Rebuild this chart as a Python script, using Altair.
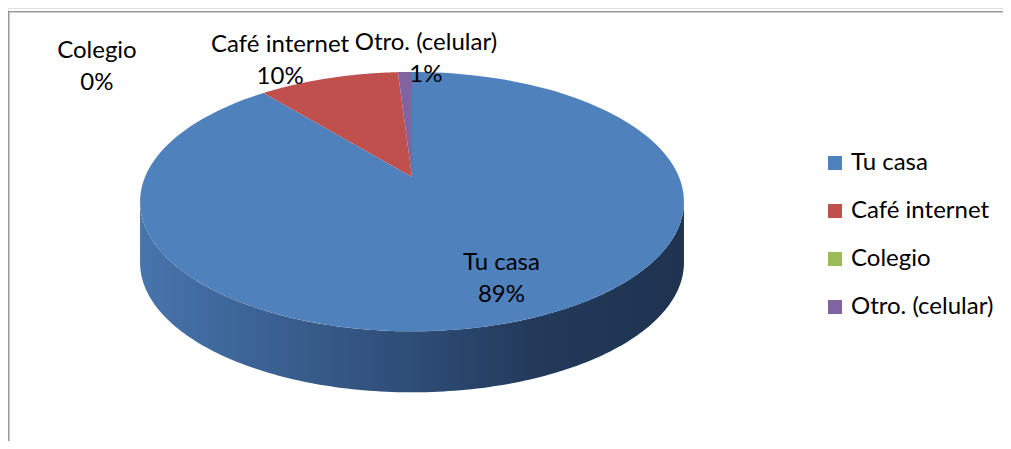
import math
import altair as alt
import pandas as pd

# ---- data ----
categorias = ["Tu casa", "Café internet", "Colegio", "Otro. (celular)"]
porcentajes = [89, 10, 0, 1]
colores = ["#4F81BD", "#C0504D", "#9BBB59", "#8064A2"]

# ---- layout (pixels / projection constants) ----
W, H = 995, 433
APEX_X, APEX_Y = 404, 169      # pie centre in plot pixels
SX, SY = 267, 125              # pixels per unit on x / y
K = 0.19                       # perspective factor
DEPTH = 61                     # pie thickness in pixels
N = 160                        # points per arc
FONT = "Lato"

xdom = [-APEX_X / SX, (W - APEX_X) / SX]
ydom = [(APEX_Y - H) / SY, APEX_Y / SY]
xenc = alt.X("px:Q", scale=alt.Scale(domain=xdom, nice=False, zero=False), axis=None)
yenc = alt.Y("py:Q", scale=alt.Scale(domain=ydom, nice=False, zero=False), axis=None)

src = pd.DataFrame({"categoria": categorias, "porcentaje": porcentajes})

base = (
    alt.Chart(src)
    .transform_window(cum="sum(porcentaje)", frame=[None, 0])
    .transform_joinaggregate(total="sum(porcentaje)")
    .transform_calculate(
        ini="(datum.cum - datum.porcentaje) / datum.total",
        fin="datum.cum / datum.total",
    )
)

# front wall (visible side of the pie)
FA = math.acos(-K) / (2 * math.pi)
wall = (
    base.transform_calculate(a0=f"max(datum.ini, {FA})", a1=f"min(datum.fin, {1 - FA})")
    .transform_filter("datum.a1 > datum.a0")
    .transform_calculate(t=f"sequence(0, {2 * N})")
    .transform_flatten(["t"])
    .transform_calculate(
        s=f"datum.t < {N} ? datum.t / {N - 1} : ({2 * N - 1} - datum.t) / {N - 1}",
    )
    .transform_calculate(ang="2 * PI * (datum.a0 + (datum.a1 - datum.a0) * datum.s)")
    .transform_calculate(den=f"1 + {K} * cos(datum.ang)")
    .transform_calculate(
        px="sin(datum.ang) / datum.den",
        py=f"cos(datum.ang) / datum.den - (datum.t >= {N} ? {DEPTH / SY} : 0)",
    )
    .mark_line(
        filled=True,
        interpolate="linear",
        fill=alt.LinearGradient(
            gradient="linear",
            x1=0, x2=1, y1=0, y2=0,
            stops=[
                alt.GradientStop(color="#4775ad", offset=0),
                alt.GradientStop(color="#3f689c", offset=0.15),
                alt.GradientStop(color="#385c8b", offset=0.3),
                alt.GradientStop(color="#2e4d77", offset=0.5),
                alt.GradientStop(color="#233a5b", offset=0.72),
                alt.GradientStop(color="#1f3350", offset=1),
            ],
        ),
    )
    .encode(x=xenc, y=yenc, order=alt.Order("t:Q"))
)

# top face slices
slices = (
    base.transform_calculate(t=f"sequence(0, {N + 1})")
    .transform_flatten(["t"])
    .transform_calculate(
        ang=f"2 * PI * (datum.ini + (datum.fin - datum.ini) * max(datum.t - 1, 0) / {N - 1})"
    )
    .transform_calculate(den=f"1 + {K} * cos(datum.ang)")
    .transform_calculate(
        px="datum.t == 0 ? 0 : sin(datum.ang) / datum.den",
        py="datum.t == 0 ? 0 : cos(datum.ang) / datum.den",
    )
    .mark_line(filled=True, interpolate="linear")
    .encode(
        x=xenc,
        y=yenc,
        order=alt.Order("t:Q"),
        color=alt.Color(
            "categoria:N",
            scale=alt.Scale(domain=categorias, range=colores),
            sort=categorias,
            legend=alt.Legend(
                title=None,
                orient="none",
                legendX=815,
                legendY=143,
                symbolType="square",
                symbolSize=196,
                symbolStrokeWidth=0,
                labelFont=FONT,
                labelFontSize=24,
                labelColor="black",
                labelOffset=4,
                rowPadding=24,
                padding=0,
            ),
        ),
    )
)

# data label placement (unit coordinates relative to pie centre)
label_layout = pd.DataFrame(
    {
        "categoria": categorias,
        "lx": [0.335, -0.494, -1.18, 0.052],
        "ly": [-0.812, 0.928, 0.88, 0.948],
    }
)

labels = (
    base.transform_lookup(
        lookup="categoria",
        from_=alt.LookupData(data=label_layout, key="categoria", fields=["lx", "ly"]),
    )
    .transform_calculate(
        etiqueta="datum.categoria + '\\n' + format(datum.porcentaje / datum.total, '.0%')",
        px="datum.lx",
        py="datum.ly",
    )
    .mark_text(
        font=FONT,
        fontSize=24,
        lineBreak="\n",
        lineHeight=32,
        align="center",
        baseline="middle",
        dy=-16,
        color="black",
    )
    .encode(x=xenc, y=yenc, text="etiqueta:N")
)

frame_top = (
    alt.Chart(alt.Data(values=[{}]))
    .mark_rule(color="#9a9a9a", strokeWidth=1.5)
    .encode(x=alt.value(0), x2=alt.value(W), y=alt.value(3.75))
)
frame_left = (
    alt.Chart(alt.Data(values=[{}]))
    .mark_rule(color="#9a9a9a", strokeWidth=1.5)
    .encode(x=alt.value(0.75), y=alt.value(3.75), y2=alt.value(H))
)

chart = (
    alt.layer(wall, slices, labels, frame_top, frame_left)
    .properties(width=W, height=H, padding=0, autosize=alt.AutoSizeParams(type="none"))
    .configure_view(strokeWidth=0)
    .configure(background="white")
)

chart.save("out.html", embed_options={"renderer": "svg", "actions": False})
